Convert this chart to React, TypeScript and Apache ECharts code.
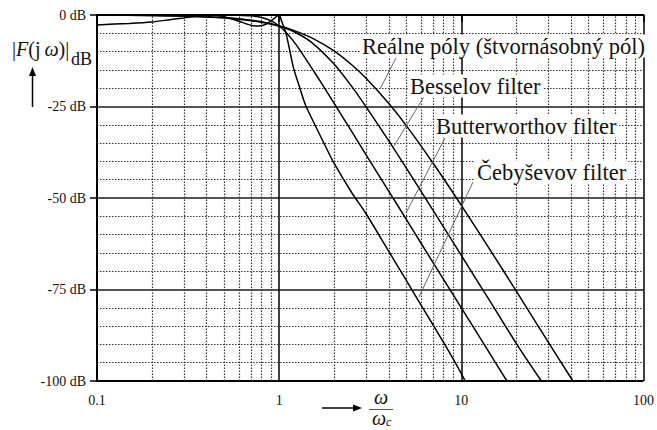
import React, { useEffect, useRef } from "react";
import * as echarts from "echarts";

// ---- data ----
const xTickLabels = ["0.1", "1", "10", "100"];
const yTickValues = [0, -25, -50, -75, -100];

const chebW = [0.1, 0.15, 0.2, 0.25, 0.3, 0.35, 0.42, 0.5, 0.6, 0.7, 0.77, 0.85, 0.92, 0.97, 1.0, 1.03, 1.06, 1.09, 1.13, 1.2, 1.3, 1.4, 1.6, 1.8, 2, 2.5, 3, 4, 5, 6, 7, 8, 9, 10, 10.5];
const chebDb = [-2.7, -2.3, -1.9, -1.3, -0.8, -0.35, 0, -0.5, -1.7, -2.8, -3.0, -2.5, -1.3, -0.4, 0, -1.6, -3.2, -5, -8.5, -14.5, -20, -24.8, -30.8, -36, -40.5, -48.5, -54.3, -64.6, -72.6, -79.2, -84.7, -89.5, -93.9, -98, -100];

const butterW = [0.1, 0.3, 0.5, 0.6, 0.7, 0.8, 0.9, 1, 1.1, 1.2, 1.3, 1.5, 1.7, 2, 2.5, 3, 4, 5, 6, 8, 10, 12, 15, 17.8];
const butterDb = [0, 0, -0.02, -0.07, -0.24, -0.67, -1.55, -3.0, -5.0, -7.2, -9.6, -14.3, -18.5, -24.1, -31.8, -38.2, -48.2, -55.9, -62.3, -72.3, -80, -86.3, -94.1, -100];

const besselW = [0.1, 0.2, 0.3, 0.5, 0.7, 0.85, 1, 1.2, 1.5, 2, 2.5, 3, 4, 5, 7, 10, 15, 20, 27.5];
const besselDb = [-0.03, -0.12, -0.26, -0.7, -1.41, -2.1, -3.0, -4.5, -7.4, -13.4, -19.5, -25.1, -34.4, -41.9, -53.4, -65.7, -79.7, -89.7, -100];

const realW = [0.1, 0.2, 0.3, 0.5, 0.7, 1, 1.2, 1.5, 2, 2.5, 3, 4, 5, 7, 10, 15, 20, 30, 41];
const realDb = [-0.03, -0.13, -0.29, -0.8, -1.54, -3.0, -4.2, -6.2, -9.8, -13.6, -17.3, -24.2, -30.3, -40.5, -52.0, -65.6, -75.4, -89.4, -100];

const minorX = [0.2, 0.3, 0.4, 0.5, 0.6, 0.7, 0.8, 0.9, 2, 3, 4, 5, 6, 7, 8, 9, 20, 30, 40, 50, 60, 70, 80, 90];
const minorY = [-5, -10, -15, -20, -30, -35, -40, -45, -55, -60, -65, -70, -80, -85, -90, -95];

const seriesNames = ["Reálne póly (štvornásobný pól)", "Besselov filter", "Butterworthov filter", "Čebyševov filter"];

const zip = (w: number[], d: number[]) => w.map((v, i) => [v, d[i]]);

const SERIF = "'Liberation Serif', 'Times New Roman', Times, serif";

export default function App() {
  const ref = useRef<HTMLDivElement>(null);
  useEffect(() => {
    if (!ref.current) return;
    const chart = echarts.init(ref.current, null, { renderer: "svg" });

    const curve = (name: string, data: number[][]) => ({
      name,
      type: "line",
      data,
      showSymbol: false,
      smooth: 0.25,
      lineStyle: { color: "#000", width: 1.5 },
      z: 5,
      silent: true,
    });

    const label = (text: string, x: number, y: number) => ({
      type: "text",
      z: 100,
      style: {
        text,
        x,
        y,
        fontFamily: SERIF,
        fontSize: 22.5,
        fill: "#111",
        backgroundColor: "#fff",
        padding: [0, 2],
        align: "left",
        verticalAlign: "middle",
      },
    });
    const pointer = (x1: number, y1: number, x2: number, y2: number) => ({
      type: "line",
      z: 99,
      shape: { x1, y1, x2, y2 },
      style: { stroke: "#666", lineWidth: 1 },
    });

    chart.setOption({
      animation: false,
      backgroundColor: "#fff",
      textStyle: { fontFamily: SERIF },
      grid: { left: 97, top: 15, width: 549, height: 366, show: false },
      xAxis: {
        type: "log",
        logBase: 10,
        min: 0.1,
        max: 100,
        axisLine: { show: true, lineStyle: { color: "#000", width: 2 } },
        axisTick: { show: true, length: 7, lineStyle: { color: "#000", width: 1.5 } },
        axisLabel: {
          color: "#111",
          fontFamily: SERIF,
          fontSize: 14,
          margin: 12,
          formatter: (v: number) => {
            const i = [0.1, 1, 10, 100].findIndex((t) => Math.abs(t - v) < 1e-9 * Math.max(1, v));
            return i >= 0 ? xTickLabels[i] : "";
          },
        },
        splitLine: { show: true, lineStyle: { color: "#000", width: 1.5 } },
      },
      yAxis: {
        type: "value",
        min: -100,
        max: 0,
        interval: 25,
        axisLine: { show: true, lineStyle: { color: "#000", width: 2 } },
        axisTick: { show: true, length: 7, lineStyle: { color: "#000", width: 1.5 } },
        axisLabel: {
          color: "#111",
          fontFamily: SERIF,
          fontSize: 14,
          margin: 11,
          formatter: (v: number) => (yTickValues.includes(v) ? `${v} dB` : ""),
        },
        splitLine: {
          show: true,
          lineStyle: { color: ["#000", "#555", "#555", "#555", "#000"], width: 2 },
        },
      },
      series: [
        {
          type: "line",
          data: [[1, 0]],
          showSymbol: false,
          silent: true,
          z: 1,
          lineStyle: { width: 0 },
          markLine: {
            silent: true,
            symbol: ["none", "none"],
            label: { show: false },
            lineStyle: { color: "#333", width: 1.2, type: [1.5, 1.5] },
            data: [
              ...minorX.map((v) => ({ xAxis: v })),
              ...minorY.map((v) => ({ yAxis: v })),
            ],
          },
        },
        curve(seriesNames[0], zip(realW, realDb)),
        curve(seriesNames[1], zip(besselW, besselDb)),
        curve(seriesNames[2], zip(butterW, butterDb)),
        curve(seriesNames[3], zip(chebW, chebDb)),
      ],
      graphic: [
        pointer(396, 58, 380, 89),
        pointer(425, 95, 394, 146),
        pointer(445, 138, 406, 213),
        pointer(473, 182, 419, 297),
        label(seriesNames[0], 360, 46),
        label(seriesNames[1], 408, 86),
        label(seriesNames[2], 434, 126),
        label(seriesNames[3], 475, 172),
        // y-axis title
        {
          type: "text",
          z: 100,
          style: {
            text: "{n||}{i|F}{n|(j\u2009}{w|ω}{n|)|}",
            x: 12,
            y: 49,
            verticalAlign: "middle",
            fill: "#111",
            fontFamily: SERIF,
            rich: {
              n: { fontFamily: SERIF, fontSize: 20, fill: "#111" },
              i: { fontFamily: SERIF, fontSize: 20, fontStyle: "italic", fill: "#111" },
              w: { fontFamily: SERIF, fontSize: 20, fontStyle: "italic", fill: "#111" },
            },
          },
        },
        {
          type: "text",
          z: 100,
          style: { text: "dB", x: 71, y: 59, fontFamily: SERIF, fontSize: 18, fill: "#111", verticalAlign: "middle" },
        },
        { type: "line", z: 100, shape: { x1: 32.5, y1: 107, x2: 32.5, y2: 74 }, style: { stroke: "#000", lineWidth: 1.5 } },
        { type: "polygon", z: 100, shape: { points: [[29, 76], [36, 76], [32.5, 67]] }, style: { fill: "#000" } },
        // x-axis title
        { type: "line", z: 100, shape: { x1: 322, y1: 408, x2: 355, y2: 408 }, style: { stroke: "#000", lineWidth: 1.5 } },
        { type: "polygon", z: 100, shape: { points: [[353, 404.5], [353, 411.5], [362, 408]] }, style: { fill: "#000" } },
        {
          type: "text",
          z: 100,
          style: { text: "ω", x: 381, y: 397, fontFamily: SERIF, fontSize: 20, fontStyle: "italic", fill: "#111", align: "center", verticalAlign: "middle" },
        },
        { type: "line", z: 100, shape: { x1: 369, y1: 409.5, x2: 393, y2: 409.5 }, style: { stroke: "#555", lineWidth: 1 } },
        {
          type: "text",
          z: 100,
          style: { text: "ω", x: 379, y: 418, fontFamily: SERIF, fontSize: 20, fontStyle: "italic", fill: "#111", align: "center", verticalAlign: "middle" },
        },
        {
          type: "text",
          z: 100,
          style: { text: "c", x: 386, y: 422, fontFamily: SERIF, fontSize: 12, fontStyle: "italic", fill: "#111", align: "left", verticalAlign: "middle" },
        },
      ],
    });
    return () => chart.dispose();
  }, []);
  return <div ref={ref} style={{ position: "fixed", left: 0, top: 0, width: 657, height: 430 }} />;
}
